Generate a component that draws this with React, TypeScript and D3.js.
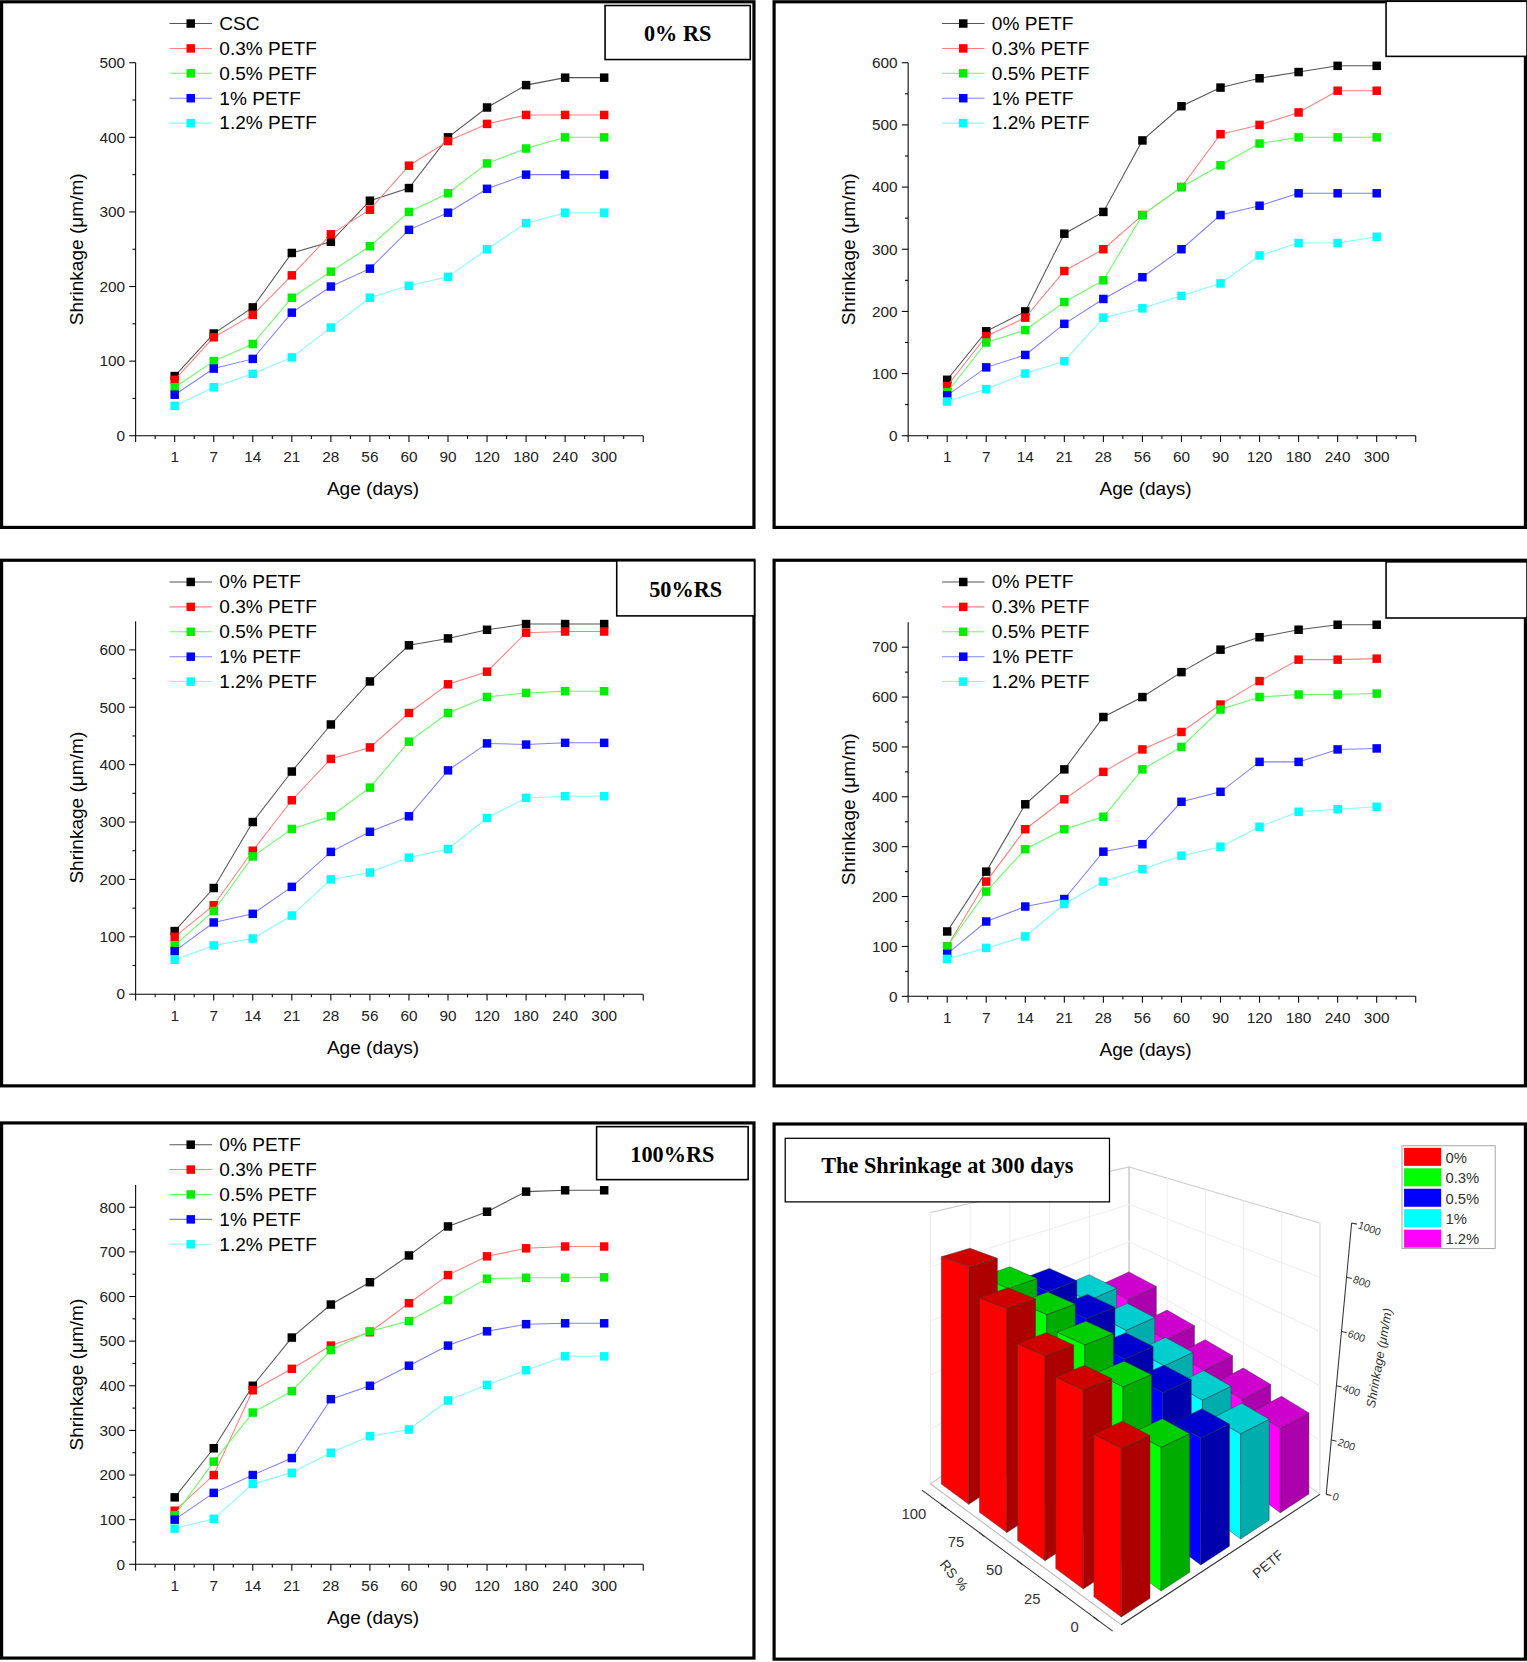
import React from 'react';
import * as d3 from 'd3';

const ages = ['1', '7', '14', '21', '28', '56', '60', '90', '120', '180', '240', '300'];
const colors = ['#000000', '#ff0000', '#00ee00', '#0000ff', '#00ffff'];
const lineColors = ['#555555', '#ff8080', '#66ff66', '#8080ff', '#80ffff'];
const petfLabels = ['0% PETF', '0.3% PETF', '0.5% PETF', '1% PETF', '1.2% PETF'];
const rs0Labels = ['CSC', '0.3% PETF', '0.5% PETF', '1% PETF', '1.2% PETF'];

const rs0 = [
  [80, 137, 172, 245, 260, 315, 332, 400, 440, 470, 480, 480],
  [75, 132, 162, 215, 270, 303, 362, 395, 418, 430, 430, 430],
  [65, 100, 123, 185, 220, 254, 300, 325, 365, 385, 400, 400],
  [55, 90, 103, 165, 200, 224, 276, 299, 331, 350, 350, 350],
  [40, 65, 83, 105, 145, 185, 201, 213, 250, 285, 299, 299],
];
const rs25 = [
  [90, 168, 200, 325, 360, 475, 530, 560, 575, 585, 595, 595],
  [80, 160, 190, 265, 300, 355, 400, 485, 500, 520, 555, 555],
  [70, 150, 170, 215, 250, 355, 400, 435, 470, 480, 480, 480],
  [65, 110, 130, 180, 220, 255, 300, 355, 370, 390, 390, 390],
  [55, 75, 100, 120, 190, 205, 225, 245, 290, 310, 310, 320],
];
const rs50 = [
  [110, 185, 300, 388, 470, 545, 608, 620, 635, 645, 645, 645],
  [100, 155, 250, 338, 410, 430, 490, 540, 562, 630, 632, 632],
  [85, 145, 240, 288, 310, 360, 440, 490, 518, 525, 528, 528],
  [75, 125, 140, 187, 248, 283, 310, 390, 437, 435, 438, 438],
  [60, 85, 97, 137, 200, 212, 238, 253, 307, 342, 345, 345],
];
const rs75 = [
  [130, 250, 385, 455, 560, 600, 650, 695, 720, 735, 745, 745],
  [100, 230, 335, 395, 450, 495, 530, 585, 632, 675, 675, 677],
  [100, 210, 295, 335, 360, 455, 500, 575, 600, 605, 605, 607],
  [85, 150, 180, 195, 290, 305, 390, 410, 470, 470, 495, 497],
  [75, 97, 120, 185, 230, 255, 282, 300, 340, 370, 375, 380],
];
const rs100 = [
  [150, 260, 400, 508, 582, 632, 692, 757, 790, 835, 838, 838],
  [120, 200, 390, 438, 490, 520, 585, 648, 690, 708, 712, 712],
  [110, 230, 340, 388, 480, 522, 545, 592, 640, 642, 642, 643],
  [100, 160, 200, 238, 370, 400, 445, 490, 522, 538, 540, 540],
  [80, 102, 180, 205, 250, 287, 302, 367, 402, 435, 466, 466],
];

const rsLevels = ['0', '25', '50', '75', '100'];
const barLabels = ['0%', '0.3%', '0.5%', '1%', '1.2%'];
const barColors = ['#ff0000', '#00ff00', '#0000ff', '#00ffff', '#ff00ff'];
const zTicks = [0, 200, 400, 600, 800, 1000];

const sans = 'Arial, "Liberation Sans", sans-serif';
const serif = '"Times New Roman", "Liberation Serif", serif';

type PanelProps = {
  x: number; y: number; w: number; h: number;
  data: number[][]; labels: string[]; yMax: number; yTop: number;
  tag: string | null; tagBox: [number, number, number, number];
  baseline: number;
};

const Panel = ({ x, y, w, h, data, labels, yMax, yTop, tag, tagBox, baseline }: PanelProps) => {
  const xs = d3.scaleLinear().domain([0, 13]).range([128, 607]);
  const ys = d3.scaleLinear().domain([0, yMax]).range([baseline, yTop]);
  const ticks = d3.range(0, yMax + 1, 100);
  const minor = d3.range(50, yMax, 100);
  const ln = d3.line<number>().x((_, i) => xs(i + 1)).y(v => ys(v));
  return (
    <g transform={`translate(${x},${y})`}>
      <rect x={1.5} y={1.5} width={w - 3} height={h - 3} fill="white" stroke="black" strokeWidth={3} />
      <rect x={tagBox[0]} y={tagBox[1]} width={tagBox[2]} height={tagBox[3]} fill="white" stroke="black" strokeWidth={1.5} />
      {tag && <text x={tagBox[0] + tagBox[2] / 2} y={tagBox[1] + tagBox[3] / 2 + 8} textAnchor="middle"
        fontFamily={serif} fontWeight="bold" fontSize={21}>{tag}</text>}
      <line x1={xs(0)} x2={xs(13)} y1={baseline} y2={baseline} stroke="black" />
      <line x1={xs(0)} x2={xs(0)} y1={baseline} y2={ys(yMax)} stroke="black" />
      {d3.range(0, 14).map(i => (
        <line key={'xt' + i} x1={xs(i)} x2={xs(i)} y1={baseline} y2={baseline + 6} stroke="black" />
      ))}
      {d3.range(0, 13).map(i => (
        <line key={'xm' + i} x1={xs(i + 0.5)} x2={xs(i + 0.5)} y1={baseline} y2={baseline + 3} stroke="black" />
      ))}
      {ages.map((a, i) => (
        <text key={a} x={xs(i + 1)} y={baseline + 25} textAnchor="middle" fontFamily={sans} fontSize={14.5} fill="#222">{a}</text>
      ))}
      {ticks.map(t => (
        <g key={'yt' + t}>
          <line x1={xs(0) - 6} x2={xs(0)} y1={ys(t)} y2={ys(t)} stroke="black" />
          <text x={xs(0) - 10} y={ys(t) + 5} textAnchor="end" fontFamily={sans} fontSize={14.5} fill="#222">{t}</text>
        </g>
      ))}
      {minor.map(t => <line key={'ym' + t} x1={xs(0) - 3} x2={xs(0)} y1={ys(t)} y2={ys(t)} stroke="black" />)}
      <text x={352} y={baseline + 56} textAnchor="middle" fontFamily={sans} fontSize={18}>Age (days)</text>
      <text transform={`translate(78,${(baseline + ys(yMax)) / 2}) rotate(-90)`} textAnchor="middle"
        fontFamily={sans} fontSize={18}>Shrinkage (μm/m)</text>
      {data.map((s, k) => (
        <g key={'s' + k}>
          <path d={ln(s) as string} fill="none" stroke={lineColors[k]} strokeWidth={1} />
          {s.map((v, i) => <rect key={i} x={xs(i + 1) - 4} y={ys(v) - 4} width={8} height={8} fill={colors[k]} />)}
        </g>
      ))}
      {labels.map((l, k) => (
        <g key={'l' + k} transform={`translate(0,${22 + k * 23.5})`}>
          <line x1={160} x2={200} y1={0} y2={0} stroke={lineColors[k]} />
          <rect x={176} y={-4} width={8} height={8} fill={colors[k]} />
          <text x={207} y={6} fontFamily={sans} fontSize={18}>{l}</text>
        </g>
      ))}
    </g>
  );
};

const Bars3D = () => {
  const all = [rs0, rs25, rs50, rs75, rs100].map(p => p.map(s => s[s.length - 1]));
  const ox = 1058, oy = 1533;
  const vr = [-36, -26.6], vp = [37.5, -24.6];
  // crude perspective: vertical scale shrinks with depth
  const P = (r: number, p: number, z: number): [number, number] => {
    const d = (r + 0.5) + (p + 0.5);
    const k = 0.336 - 0.016 * d;
    return [ox + (r + 0.5) * vr[0] + (p + 0.5) * vp[0], oy + (r + 0.5) * vr[1] + (p + 0.5) * vp[1] - z * k];
  };
  const pts = (a: [number, number][]) => a.map(q => q.join(',')).join(' ');
  const hw = 0.36;
  const bars: { r: number; p: number; v: number }[] = [];
  all.forEach((row, r) => row.forEach((v, p) => bars.push({ r, p, v })));
  bars.sort((a, b) => (b.r + b.p) - (a.r + a.p) || b.r - a.r);
  const rMax = 4.5, pMax = 4.5, rMin = -0.5, pMin = -0.5;
  return (
    <g>
      <rect x={730.5} y={1060.5} width={709} height={505} fill="white" stroke="black" strokeWidth={3} />
      <polygon points={pts([P(rMax, pMin, 0), P(rMax, pMax, 0), P(rMax, pMax, 1000), P(rMax, pMin, 1000)])} fill="none" stroke="#ccc" />
      <polygon points={pts([P(rMin, pMax, 0), P(rMax, pMax, 0), P(rMax, pMax, 1000), P(rMin, pMax, 1000)])} fill="none" stroke="#ccc" />
      {zTicks.slice(1, -1).map(t => (
        <polyline key={'g' + t} points={pts([P(rMax, pMin, t), P(rMax, pMax, t), P(rMin, pMax, t)])} fill="none" stroke="#eee" />
      ))}
      {d3.range(0, 5).map(i => (
        <g key={'gv' + i}>
          <line x1={P(rMax, i - 0.5, 0)[0]} y1={P(rMax, i - 0.5, 0)[1]} x2={P(rMax, i - 0.5, 1000)[0]} y2={P(rMax, i - 0.5, 1000)[1]} stroke="#eee" />
          <line x1={P(i - 0.5, pMax, 0)[0]} y1={P(i - 0.5, pMax, 0)[1]} x2={P(i - 0.5, pMax, 1000)[0]} y2={P(i - 0.5, pMax, 1000)[1]} stroke="#eee" />
        </g>
      ))}
      <polyline points={pts([P(rMax, pMin, 0), P(rMin, pMin, 0), P(rMin, pMax, 0)])} fill="none" stroke="#bbb" />
      {bars.map(({ r, p, v }) => {
        const c = d3.color(barColors[p])!;
        const dark = c.darker(1.1).toString();
        const mid = c.darker(0.6).toString();
        const r0 = r - hw, r1 = r + hw, p0 = p - hw, p1 = p + hw;
        return (
          <g key={`${r}-${p}`} stroke="#333" strokeWidth={0.4}>
            <polygon points={pts([P(r0, p0, 0), P(r1, p0, 0), P(r1, p0, v), P(r0, p0, v)])} fill={barColors[p]} />
            <polygon points={pts([P(r0, p0, 0), P(r0, p1, 0), P(r0, p1, v), P(r0, p0, v)])} fill={dark} />
            <polygon points={pts([P(r0, p0, v), P(r1, p0, v), P(r1, p1, v), P(r0, p1, v)])} fill={mid} />
          </g>
        );
      })}
      <line x1={P(rMin, pMin, 0)[0] - 8} y1={P(rMin, pMin, 0)[1] + 6} x2={P(rMax, pMin, 0)[0] - 8} y2={P(rMax, pMin, 0)[1] + 6} stroke="#333" />
      {rsLevels.map((l, i) => {
        const [px, py] = P(i, pMin, 0);
        return (
          <g key={l}>
            <line x1={px - 8} y1={py + 6} x2={px - 3} y2={py + 10} stroke="#333" />
            <text x={px - 22} y={py + 20} textAnchor="end" fontFamily={sans} fontSize={14} fill="#333">{l}</text>
          </g>
        );
      })}
      <text transform={`translate(${P(2, pMin, 0)[0] - 82},${P(2, pMin, 0)[1] + 10}) rotate(50)`} fontFamily={sans} fontSize={13} fill="#333">RS %</text>
      <line x1={P(rMin, pMin, 0)[0]} y1={P(rMin, pMin, 0)[1]} x2={P(rMin, pMax, 0)[0]} y2={P(rMin, pMax, 0)[1]} stroke="#333" />
      <text transform={`translate(${P(rMin, 2.8, 0)[0] + 5},${P(rMin, 2.8, 0)[1] + 38}) rotate(-40)`} fontFamily={sans} fontSize={13} fill="#333">PETF</text>
      <line x1={P(rMin, pMax, 0)[0] + 6} y1={P(rMin, pMax, 0)[1]} x2={P(rMin, pMax, 1000)[0] + 30} y2={P(rMin, pMax, 1000)[1]} stroke="#333" />
      {zTicks.map(t => {
        const f = t / 1000;
        const [px, py] = P(rMin, pMax, t);
        const xx = px + 6 + 24 * f;
        return (
          <g key={'z' + t}>
            <line x1={xx} x2={xx + 5} y1={py} y2={py + 1} stroke="#333" />
            <text x={xx + 7} y={py + 5} fontFamily={sans} fontSize={10} fill="#333" transform={`rotate(20 ${xx + 7} ${py})`}>{t}</text>
          </g>
        );
      })}
      <text transform={`translate(${P(rMin, pMax, 500)[0] + 60},${P(rMin, pMax, 500)[1]}) rotate(-80)`} textAnchor="middle"
        fontFamily={sans} fontStyle="italic" fontSize={12} fill="#333">Shrinkage (μm/m)</text>
      <rect x={741} y={1074} width={306} height={60} fill="white" stroke="black" strokeWidth={1.2} />
      <text x={894} y={1107} textAnchor="middle" fontFamily={serif} fontWeight="bold" fontSize={21}>The Shrinkage at 300 days</text>
      <rect x={1323} y={1081} width={88} height={97} fill="white" stroke="#aaa" />
      {barLabels.map((l, i) => (
        <g key={l}>
          <rect x={1325} y={1083 + i * 19.3} width={35} height={17} fill={barColors[i]} />
          <text x={1364} y={1097 + i * 19.3} fontFamily={sans} fontSize={14} fill="#333">{l}</text>
        </g>
      ))}
    </g>
  );
};

export default function App() {
  return (
    <svg width={1527} height={1662} viewBox="0 0 1441 1568"
      style={{ position: 'absolute', left: 0, top: 0, background: 'white' }}>
      <rect width={1441} height={1568} fill="white" />
      <Panel x={0} y={0} w={713} h={499} data={rs0} labels={rs0Labels} yMax={500} yTop={59} baseline={411}
        tag="0% RS" tagBox={[571, 5, 137, 51]} />
      <Panel x={729} y={0} w={712} h={499} data={rs25} labels={petfLabels} yMax={600} yTop={59} baseline={411}
        tag={null} tagBox={[579, 1, 133, 52]} />
      <Panel x={0} y={527} w={713} h={499} data={rs50} labels={petfLabels} yMax={650} yTop={586 - 527} baseline={938 - 527}
        tag="50%RS" tagBox={[582, 2, 130, 52]} />
      <Panel x={729} y={527} w={712} h={499} data={rs75} labels={petfLabels} yMax={750} yTop={587 - 527} baseline={940 - 527}
        tag={null} tagBox={[579, 3, 133, 53]} />
      <Panel x={0} y={1058} w={713} h={508} data={rs100} labels={petfLabels} yMax={850} yTop={1118 - 1058} baseline={1476 - 1058}
        tag="100%RS" tagBox={[563, 5, 143, 50]} />
      <Bars3D />
    </svg>
  );
}
